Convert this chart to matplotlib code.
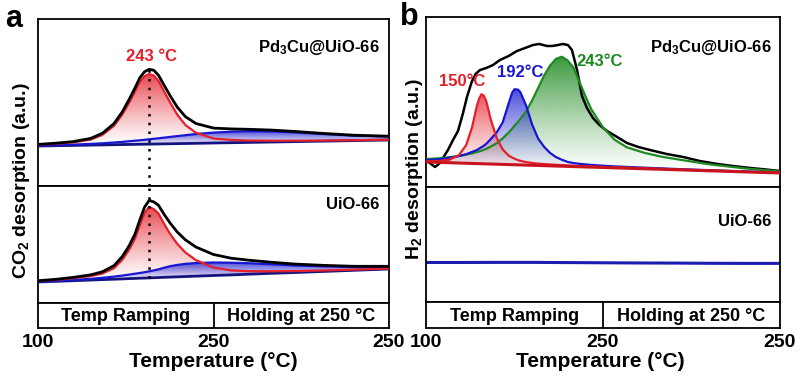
import numpy as np
import matplotlib
matplotlib.use("Agg")
from matplotlib import pyplot as plt
from matplotlib import colors as mcolors

# Fonts
plt.rcParams["font.family"] = ["Liberation Sans", "DejaVu Sans"]
plt.rcParams["font.weight"] = "bold"
plt.rcParams["mathtext.default"] = "regular"

# ---- Panel a: CO2 desorption (x axis: 100-250 ramp, then holding) ----
a_temp = [100, 115, 130, 145, 155, 165, 172, 178, 183, 187, 191, 195, 199, 203,
          208, 213, 219, 226, 235, 250, 265, 280, 300, 320, 345, 370, 400]

# Pd3Cu@UiO-66
a1_black = [41.6, 42.8, 44.4, 47.6, 52.7, 62.5, 74.1, 86.8, 98.3, 108.2, 114.2,
            116.7, 115.7, 110.7, 100.4, 90.1, 78.9, 69.3, 62.5, 57.9, 57.1, 56.7,
            55.9, 54.5, 52.5, 50.8, 49.8]
a1_red = [41.3, 42.3, 43.6, 46.4, 51.1, 60.3, 71.4, 83.6, 94.7, 104.2, 109.8,
          111.9, 110.5, 105.1, 94.2, 83.3, 71.4, 61.0, 53.2, 47.5, 46.1, 45.5,
          45.3, 45.3, 45.5, 45.8, 46.3]
a1_blue = [40.3, 40.8, 41.4, 42.1, 42.7, 43.5, 44.1, 44.8, 45.3, 45.7, 46.2,
           46.7, 47.2, 47.7, 48.4, 49.1, 49.9, 50.8, 52.0, 53.4, 54.3, 54.8,
           54.6, 53.6, 51.9, 50.4, 49.5]
a1_base = [40.0, 40.3, 40.6, 40.9, 41.1, 41.3, 41.44, 41.56, 41.66, 41.74, 41.82,
           41.9, 41.98, 42.06, 42.16, 42.26, 42.38, 42.52, 42.7, 43.0, 43.3, 43.6,
           44.0, 44.4, 44.9, 45.4, 46.0]

# UiO-66
a2_black = [22.3, 23.65, 25.6, 28.15, 31.2, 37.4, 46.4, 57.4, 69.3, 83.0, 95.75,
            102.6, 101.1, 97.65, 88.3, 79.8, 71.05, 63.15, 55.95, 48.5, 44.8,
            42.8, 40.7, 38.9, 37.6, 36.7, 36.7]
a2_red = [22.0, 23.15, 24.8, 26.95, 29.4, 34.8, 43.1, 53.4, 64.6, 77.8, 89.95,
          96.1, 93.8, 89.45, 78.7, 68.9, 59.15, 50.45, 42.85, 35.5, 32.6, 31.8,
          31.7, 31.9, 32.6, 33.4, 34.5]
a2_blue = [21.3, 22.15, 23.1, 24.15, 25.2, 26.4, 27.4, 28.4, 29.3, 30.0, 30.75,
           31.6, 32.6, 33.65, 35.3, 36.8, 38.05, 39.15, 39.95, 40.5, 40.3, 39.8,
           38.7, 37.5, 36.6, 36.0, 36.2]
a2_base = [21.0, 21.65, 22.3, 22.95, 23.4, 23.8, 24.1, 24.4, 24.6, 24.8, 24.95,
           25.1, 25.3, 25.45, 25.7, 25.9, 26.15, 26.45, 26.85, 27.5, 28.1, 28.8,
           29.7, 30.5, 31.6, 32.7, 34.0]

a_peak_temp = 195
a_peak_label = "243 °C"

# ---- Panel b: H2 desorption ----
b_temp = [100, 110, 120, 128, 134, 139, 143, 145, 147, 149, 151, 155, 160, 165,
          170, 173, 175, 178, 180, 185, 190, 195, 200, 205, 210, 215, 220, 225,
          230, 235, 240, 250, 260, 270, 285, 300, 320, 340, 370, 400]
b_red = [25.8, 25.8, 27.3, 32.0, 41.8, 59.6, 80.4, 88.35, 92.8, 91.2, 86.1, 67.0,
         48.8, 37.6, 31.4, 29.5, 28.3, 26.9, 26.1, 24.9, 24.0, 23.4, 22.9, 22.6,
         22.2, 21.9, 21.6, 21.3, 21.0, 20.8, 20.6, 20.1, 19.6, 19.3, 18.6, 18.1,
         17.2, 16.5, 15.3, 14.2]
b_blue = [27.0, 27.6, 29.3, 31.0, 32.8, 35.1, 36.9, 38.35, 39.8, 41.2, 43.1, 48.0,
          54.8, 64.6, 83.4, 94.3, 97.75, 97.4, 94.7, 80.9, 62.2, 48.5, 40.3, 34.2,
          30.0, 27.3, 25.1, 23.9, 23.2, 22.6, 22.1, 21.3, 20.6, 20.1, 19.3, 18.6,
          17.6, 16.8, 15.6, 14.4]
b_green = [28.0, 28.6, 29.8, 31.0, 32.3, 33.6, 34.9, 35.55, 36.3, 37.2, 38.1, 40.5,
           43.8, 48.6, 54.4, 58.3, 61.3, 65.1, 68.1, 75.9, 86.7, 99.0, 111.3, 121.2,
           128.0, 130.3, 126.6, 119.4, 105.2, 91.1, 77.9, 59.5, 47.1, 39.8, 34.2,
           30.2, 26.4, 22.7, 18.6, 15.5]
b_base = [25.0, 24.63, 24.27, 23.97, 23.75, 23.57, 23.42, 23.35, 23.28, 23.2,
          23.13, 22.98, 22.8, 22.62, 22.43, 22.32, 22.25, 22.14, 22.07, 21.88,
          21.7, 21.52, 21.33, 21.15, 20.97, 20.78, 20.6, 20.42, 20.23, 20.05,
          19.87, 19.5, 19.13, 18.77, 18.22, 17.67, 16.93, 16.2, 15.1, 14.0]

# measured H2 signal (Pd3Cu@UiO-66)
b_exp_temp = [100, 107.6, 111.9, 114.4, 118.6, 122.9, 127.1, 131.4, 134.7, 139.0,
              142.0, 145.8, 151, 156.8, 162.7, 170, 177.1, 184, 190.7, 196, 202.5,
              207, 211.9, 216, 220.3, 223.7, 228.0, 232.2, 236.4, 241.5, 247,
              253.4, 262, 270.3, 280, 289.8, 304, 318, 332, 347, 360, 375, 388, 400]
b_exp = [27, 20, 24, 29, 37, 47, 56, 74, 90, 106, 113, 117, 119, 122, 127, 131,
         136, 139, 142, 143, 141, 141, 142, 143, 142, 137, 117, 91, 79, 69, 62,
         56, 50, 44, 40, 37, 33, 30, 26, 23, 21, 19, 17.5, 16]

# UiO-66 (flat)
b2_temp = [100, 130, 160, 190, 220, 250, 280, 310, 340, 370, 400]
b2_signal = [39.5, 39.5, 39.6, 39.6, 39.4, 39.2, 39.0, 38.9, 38.7, 38.6, 38.6]

b_peak_temps = [130.5, 179.7, 247.5]
b_peak_heights = [105, 114, 125]
b_peak_labels = ["150°C", "192°C", "243°C"]

x_ticks = [100, 250, 400]
x_ticklabels = ["100", "250", "250"]

RED = "#e3202a"
BLUE = "#1717d0"
GREEN = "#1f8a22"
NAVY = "#14147e"


def grad_fill(ax, x, top, bottom, color, amax):
    # fill between two curves with a vertical colour -> white gradient
    poly = ax.fill_between(x, bottom, top, facecolor="none", lw=0)
    path = poly.get_paths()[0]
    grad = np.zeros((200, 1, 4))
    grad[:, 0, :3] = mcolors.to_rgb(color)
    grad[:, 0, 3] = np.linspace(0.0, amax, 200) ** 1.2
    im = ax.imshow(grad, extent=[min(x), max(x), min(bottom), max(top)],
                   origin="lower", aspect="auto", zorder=1, interpolation="bilinear")
    im.set_clip_path(path, transform=ax.transData)


def frame(ax, ymax):
    ax.set_xlim(100, 400)
    ax.set_ylim(0, ymax)
    ax.set_xticks([])
    ax.set_yticks([])
    for s in ax.spines.values():
        s.set_linewidth(1.3)


def strip(ax):
    ax.set_xlim(100, 400)
    ax.set_ylim(0, 1)
    ax.set_yticks([])
    ax.set_xticks(x_ticks)
    ax.set_xticklabels(x_ticklabels, fontsize=14, fontweight="bold")
    ax.tick_params(axis="x", length=0, pad=4)
    ax.axvline(250, color="black", lw=1.3)
    ax.text(175, 0.45, "Temp Ramping", ha="center", va="center", fontsize=13)
    ax.text(325, 0.45, "Holding at 250 °C", ha="center", va="center", fontsize=13)
    for s in ax.spines.values():
        s.set_linewidth(1.3)


fig = plt.figure(figsize=(8, 3.77), dpi=100)

# ---- panel a ----
ax1 = fig.add_axes([0.0475, 0.5066, 0.43875, 0.443])
ax2 = fig.add_axes([0.0475, 0.1963, 0.43875, 0.3103])
ax3 = fig.add_axes([0.0475, 0.13, 0.43875, 0.0663])

for ax, black, red, blue, base, ymax in [
        (ax1, a1_black, a1_red, a1_blue, a1_base, 167),
        (ax2, a2_black, a2_red, a2_blue, a2_base, 117)]:
    grad_fill(ax, a_temp, red, base, RED, 0.85)
    grad_fill(ax, a_temp, blue, base, BLUE, 0.8)
    ax.plot(a_temp, base, color=NAVY, lw=2, zorder=3)
    ax.plot(a_temp, blue, color=BLUE, lw=1.6, zorder=3)
    ax.plot(a_temp, red, color=RED, lw=1.6, zorder=4)
    ax.plot(a_temp, black, color="black", lw=2, zorder=5)
    frame(ax, ymax)

ax1.plot([a_peak_temp, a_peak_temp], [0, max(a1_black)], color="black",
         lw=1.8, linestyle=(0, (1, 2.5)), zorder=6)
ax2.plot([a_peak_temp, a_peak_temp], [a2_base[11], 117], color="black",
         lw=1.8, linestyle=(0, (1, 2.5)), zorder=6)
ax1.text(197, 130, a_peak_label, color=RED, ha="center", va="center", fontsize=12)
ax1.text(0.974, 0.832, "Pd$_3$Cu@UiO-66", transform=ax1.transAxes,
         ha="right", va="center", fontsize=12)
ax2.text(0.974, 0.838, "UiO-66", transform=ax2.transAxes,
         ha="right", va="center", fontsize=12)
strip(ax3)

# ---- panel b ----
bx1 = fig.add_axes([0.5325, 0.504, 0.4425, 0.4509])
bx2 = fig.add_axes([0.5325, 0.199, 0.4425, 0.305])
bx3 = fig.add_axes([0.5325, 0.13, 0.4425, 0.069])

grad_fill(bx1, b_temp, b_green, b_base, GREEN, 0.9)
grad_fill(bx1, b_temp, b_blue, b_base, BLUE, 0.8)
grad_fill(bx1, b_temp, b_red, b_base, RED, 0.8)
bx1.plot(b_exp_temp, b_exp, color="black", lw=1.8, zorder=3)
bx1.plot(b_temp, b_green, color=GREEN, lw=1.6, zorder=4)
bx1.plot(b_temp, b_blue, color=BLUE, lw=1.6, zorder=4)
bx1.plot(b_temp, b_red, color=RED, lw=1.6, zorder=4)
bx1.plot(b_temp, b_base, color="#c8141e", lw=2.2, zorder=5)
for t, h, lab, c in zip(b_peak_temps, b_peak_heights, b_peak_labels, [RED, BLUE, GREEN]):
    bx1.text(t, h, lab, color=c, ha="center", va="center", fontsize=12)
bx1.text(0.977, 0.818, "Pd$_3$Cu@UiO-66", transform=bx1.transAxes,
         ha="right", va="center", fontsize=12)
frame(bx1, 170)

bx2.plot(b2_temp, b2_signal, color="#1c1cb0", lw=2.2)
bx2.text(0.977, 0.696, "UiO-66", transform=bx2.transAxes,
         ha="right", va="center", fontsize=12)
frame(bx2, 115)
strip(bx3)

# ---- labels ----
fig.text(0.267, 0.04, "Temperature (°C)", ha="center", va="center", fontsize=15)
fig.text(0.75, 0.04, "Temperature (°C)", ha="center", va="center", fontsize=15)
fig.text(0.027, 0.52, "CO$_2$ desorption (a.u.)", rotation=90,
         ha="center", va="center", fontsize=14)
fig.text(0.518, 0.55, "H$_2$ desorption (a.u.)", rotation=90,
         ha="center", va="center", fontsize=14)
fig.text(0.006, 1 - 27 / 377, "a", fontsize=22, va="baseline")
fig.text(0.5, 1 - 25 / 377, "b", fontsize=22, va="baseline")

fig.savefig("out.png", dpi=100)
